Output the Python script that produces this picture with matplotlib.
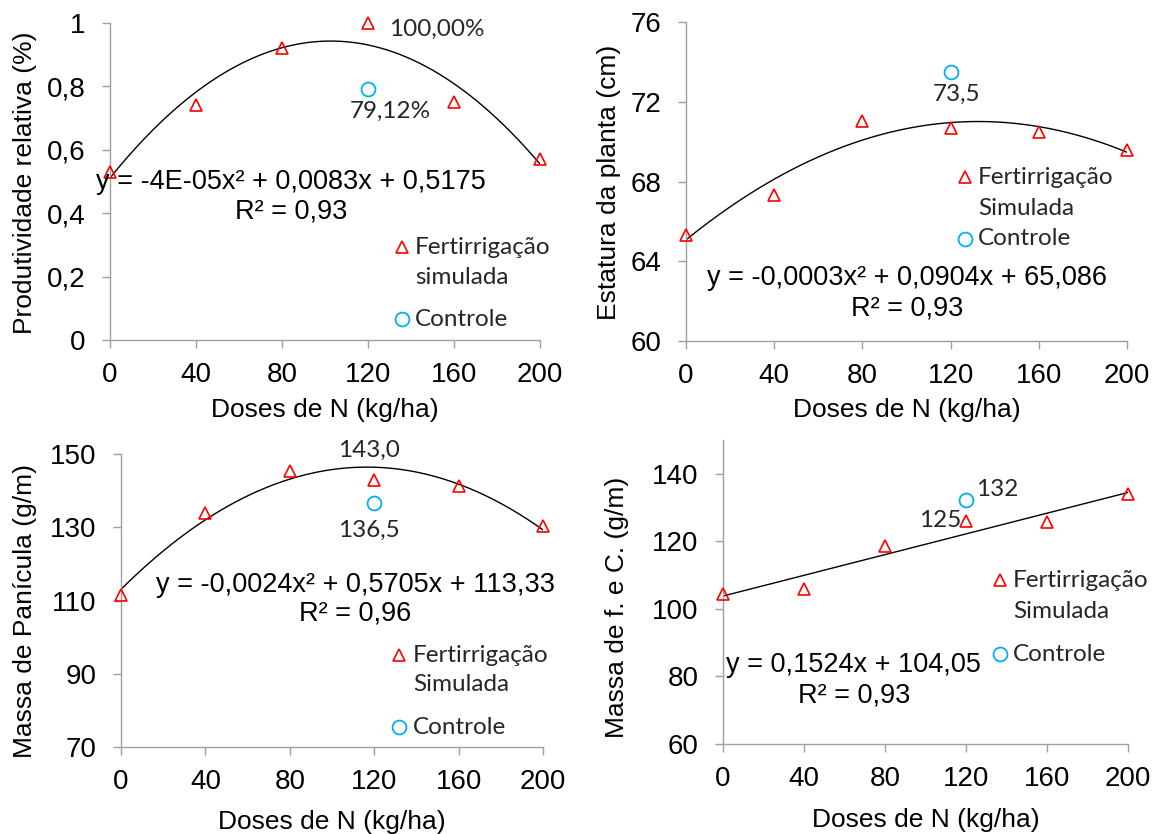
import numpy as np
import matplotlib
matplotlib.use("Agg")
import matplotlib.pyplot as plt

# doses de N (kg/ha)
doses = [0, 40, 80, 120, 160, 200]
ctrl_dose = 120

# valores
prod_rel = [0.53, 0.74, 0.92, 1.00, 0.75, 0.57]
prod_ctrl = 0.7912
estatura = [65.3, 67.3, 71.05, 70.7, 70.5, 69.6]
estatura_ctrl = 73.5
massa_pan = [111.5, 134.0, 145.5, 143.0, 141.4, 130.3]
massa_pan_ctrl = 136.5
massa_fc = [104.5, 106.0, 118.5, 126.0, 125.7, 134.1]
massa_fc_ctrl = 132.3

xticks = [0, 40, 80, 120, 160, 200]
yticks1 = [0, 0.2, 0.4, 0.6, 0.8, 1.0]
ylabels1 = ["0", "0,2", "0,4", "0,6", "0,8", "1"]
yticks2 = [60, 64, 68, 72, 76]
yticks3 = [70, 90, 110, 130, 150]
yticks4 = [60, 80, 100, 120, 140]

eq1 = ["y = -4E-05x² + 0,0083x + 0,5175", "R² = 0,93"]
eq2 = ["y = -0,0003x² + 0,0904x + 65,086", "R² = 0,93"]
eq3 = ["y = -0,0024x² + 0,5705x + 113,33", "R² = 0,96"]
eq4 = ["y = 0,1524x + 104,05", "R² = 0,93"]

RED = "#FF0000"
BLUE = "#00B0F0"
GRAY = "#A0A0A0"
ARIAL = "Liberation Sans"
CAL = "Lato"
TXT = "#262626"
FS_LAB = 17.5

fig = plt.figure(figsize=(11.61, 8.34), dpi=100)


def panel(rect, y, yc, deg, yticks, ylim, ylab, xlab_y, ylab_xy, eq, eq_pos,
          leg_pos, leg_txt, ylabels=None):
    ax = fig.add_axes(rect)
    for s in ["top", "right"]:
        ax.spines[s].set_visible(False)
    for s in ["left", "bottom"]:
        ax.spines[s].set_color(GRAY)
        ax.spines[s].set_linewidth(1.0)
    ax.set_xlim(0, 200)
    ax.set_ylim(*ylim)
    ax.set_xticks(xticks)
    ax.set_yticks(yticks)
    if ylabels is not None:
        ax.set_yticklabels(ylabels)
    ax.tick_params(direction="out", length=5.5, width=1.0, color=GRAY,
                   labelsize=20, labelcolor="black")
    ax.tick_params(axis="x", pad=10)
    ax.tick_params(axis="y", pad=12)
    for lb in ax.get_xticklabels() + ax.get_yticklabels():
        lb.set_fontfamily(ARIAL)

    # linha de tendencia (ajuste dos pontos)
    coef = np.polyfit(doses, y, deg)
    xs = np.linspace(0, 200, 200)
    ax.plot(xs, np.polyval(coef, xs), color="black", lw=1.0, zorder=2)

    ax.plot(doses, y, ls="none", marker="^", ms=8.5, mfc="none", mec=RED,
            mew=1.2, zorder=3, clip_on=False)
    ax.plot([ctrl_dose], [yc], ls="none", marker="o", ms=10, mfc="none",
            mec=BLUE, mew=1.3, zorder=3, clip_on=False)

    ax.set_xlabel("Doses de N (kg/ha)", fontsize=19, family=ARIAL, va="center")
    ax.xaxis.set_label_coords(0.5, xlab_y)
    ax.set_ylabel(ylab, fontsize=19, family=ARIAL, va="center")
    ax.yaxis.set_label_coords(*ylab_xy)

    ax.text(eq_pos[0], eq_pos[1], eq[0], transform=ax.transAxes, ha="center",
            va="center", fontsize=19.5, family=ARIAL)
    ax.text(eq_pos[0], eq_pos[2], eq[1], transform=ax.transAxes, ha="center",
            va="center", fontsize=19.5, family=ARIAL)

    # legenda
    mx, tx, y1, y2, y3 = leg_pos
    ax.plot([mx], [y1], marker="^", ms=8.5, mfc="none", mec=RED, mew=1.2,
            transform=ax.transAxes, clip_on=False)
    ax.plot([mx], [y3], marker="o", ms=10, mfc="none", mec=BLUE, mew=1.3,
            transform=ax.transAxes, clip_on=False)
    for yy, t in zip([y1, y2, y3], ["Fertirrigação", leg_txt, "Controle"]):
        ax.text(tx, yy, t, transform=ax.transAxes, va="center",
                fontsize=FS_LAB, family=CAL, color=TXT)
    return ax


def rotulo(ax, txt, xy, off, ha="center"):
    ax.annotate(txt, xy, xytext=off, textcoords="offset points", ha=ha,
                va="center", fontsize=FS_LAB, family=CAL, color=TXT)


ax1 = panel([0.0947, 0.5923, 0.3704, 0.3801], prod_rel, prod_ctrl, 2,
            yticks1, (0, 1.0), "Produtividade relativa (%)", -0.221,
            (-0.198, 0.495), eq1, (0.421, 0.498, 0.404),
            (0.679, 0.709, 0.293, 0.196, 0.066), "simulada", ylabels=ylabels1)
rotulo(ax1, "100,00%", (ctrl_dose, prod_rel[3]), (15, -4.3), ha="left")
rotulo(ax1, "79,12%", (ctrl_dose, prod_ctrl), (16, -16))

ax2 = panel([0.5909, 0.5911, 0.3798, 0.3825], estatura, estatura_ctrl, 2,
            yticks2, (60, 76), "Estatura da planta (cm)", -0.216,
            (-0.175, 0.498), eq2, (0.501, 0.197, 0.103),
            (0.633, 0.662, 0.514, 0.414, 0.320), "Simulada")
rotulo(ax2, "73,5", (ctrl_dose, estatura_ctrl), (4.3, -16))

ax3 = panel([0.1042, 0.1043, 0.3635, 0.3513], massa_pan, massa_pan_ctrl, 2,
            yticks3, (70, 150), "Massa de Panícula (g/m)", -0.256,
            (-0.2275, 0.464), eq3, (0.556, 0.553, 0.457),
            (0.659, 0.692, 0.314, 0.212, 0.068), "Simulada")
rotulo(ax3, "143,0", (ctrl_dose, massa_pan[3]), (-3.6, 21))
rotulo(ax3, "136,5", (ctrl_dose, massa_pan_ctrl), (-3.6, -19.4))

ax4 = panel([0.6227, 0.1079, 0.3488, 0.3645], massa_fc, massa_fc_ctrl, 1,
            yticks4, (60, 150), "Massa de f. e C. (g/m)", -0.25,
            (-0.262, 0.451), eq4, (0.323, 0.26, 0.161),
            (0.684, 0.716, 0.539, 0.4375, 0.296), "Simulada")
rotulo(ax4, "132", (ctrl_dose, massa_fc_ctrl), (7.2, 7.2), ha="left")
rotulo(ax4, "125", (ctrl_dose, massa_fc[3]), (-3.6, 0.7), ha="right")

fig.savefig("out.png", dpi=100)
